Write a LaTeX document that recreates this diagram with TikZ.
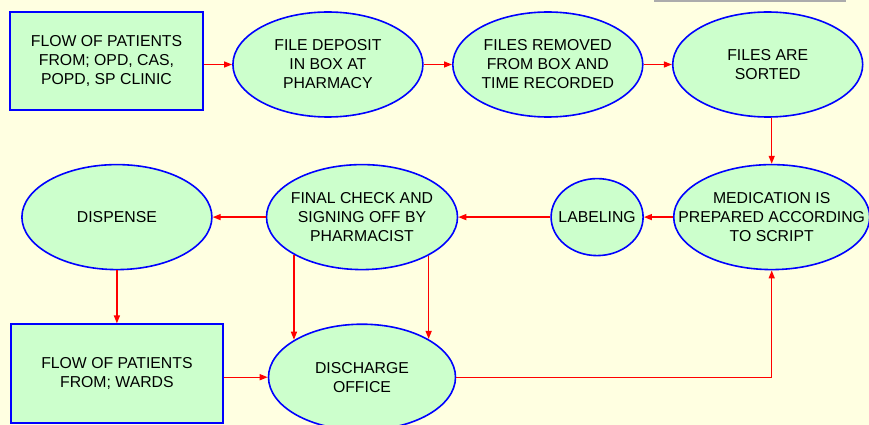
\documentclass[tikz,border=0pt]{standalone}
\usepackage{fontspec}
\setmainfont{Liberation Sans}
\usetikzlibrary{shapes.geometric, arrows.meta, positioning}
\definecolor{bgyellow}{RGB}{255,255,225}
\definecolor{boxgreen}{RGB}{204,255,204}
\tikzstyle{patientbox} = [rectangle, 
draw=blue, 
line width=1.6pt, 
fill=boxgreen, 
inner sep=0pt, 
align=center]
\tikzstyle{stage} = [ellipse, 
draw=blue, 
line width=1.6pt, 
fill=boxgreen, 
minimum width=190pt, 
minimum height=105pt, 
inner xsep=-30pt, 
inner ysep=0pt, 
align=center]
\tikzstyle{arrow} = [red, line width=1.4pt, -{Triangle[length=8pt,width=6pt]}]

\begin{document}
\begin{tikzpicture}[x=1pt, y=-1pt, node distance=28.3pt, font=\fontsize{15.8}{19}\selectfont]

        \fill [bgyellow] (0,0) rectangle (869,425);
        \useasboundingbox (0,0) rectangle (869,425);
        \draw [gray!65, line width=2.5pt] (654,1) -- (846,1);

        \node (opdflow) [patientbox, minimum width=193pt, minimum height=98pt] at (106.5,61) {FLOW OF PATIENTS\\ FROM; OPD, CAS,\\ POPD, SP CLINIC};
        \node (deposit) [stage, right=of opdflow, yshift=-3.5pt] {FILE DEPOSIT\\ IN BOX AT\\ PHARMACY};
        \node (removed) [stage, right=of deposit] {FILES REMOVED\\ FROM BOX AND\\ TIME RECORDED};
        \node (sorted) [stage, right=of removed] {FILES ARE\\ SORTED};

        \node (medication) [stage, minimum width=196pt, below=46pt of sorted, xshift=4pt] {MEDICATION IS\\ PREPARED ACCORDING\\ TO SCRIPT};
        \node (labeling) [stage, minimum width=92pt, minimum height=77pt, left=29pt of medication] {LABELING};
        \node (final) [stage, minimum width=191pt, left=92pt of labeling] {FINAL CHECK AND\\ SIGNING OFF BY\\ PHARMACIST};
        \node (dispense) [stage, left=53pt of final] {DISPENSE};

        \node (wardflow) [patientbox, minimum width=212pt, minimum height=99pt, below=53pt of dispense] {FLOW OF PATIENTS\\ FROM; WARDS};
        \node (discharge) [stage, minimum width=187pt, minimum height=106pt, below=53pt of final] {DISCHARGE\\ OFFICE};

        \draw [arrow] (opdflow.east |- deposit.west) -- (deposit.west);
        \draw [arrow] (deposit) -- (removed);
        \draw [arrow] (removed) -- (sorted);
        \draw [arrow] (medication.north |- sorted.south) -- (medication.north);

        \draw [arrow] (medication) -- (labeling);
        \draw [arrow] (labeling) -- (final);
        \draw [arrow] (final) -- (dispense);
        \draw [arrow] (dispense) -- (wardflow);

        \draw [arrow] (final.209) -- (final.209 |- discharge.151);
        \draw [arrow] (final.330) -- (final.330 |- discharge.30);
        \draw [arrow] (wardflow.east |- discharge.west) -- (discharge.west);
        \draw [arrow] (discharge.east) -| (medication.south);

    \end{tikzpicture}
\end{document}
